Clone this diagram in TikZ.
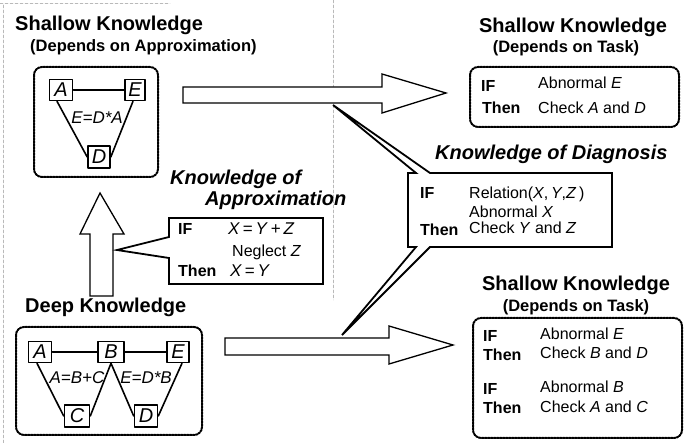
\documentclass[tikz,border=0pt]{standalone}
\usepackage{fontspec}
\setmainfont{Liberation Sans}
\begin{document}
\begin{tikzpicture}[x=1pt, y=-1pt, line join=round, line cap=round,
  ttl/.style={font=\fontsize{20}{22}\selectfont\bfseries, inner sep=0},
  subttl/.style={font=\fontsize{16.5}{18}\selectfont\bfseries, inner sep=0},
  kw/.style={font=\fontsize{16}{18}\selectfont\bfseries, anchor=mid west, inner sep=0},
  rule/.style={font=\fontsize{16}{18}\selectfont, anchor=mid west, inner sep=0},
  var/.style={draw, line width=1.6pt, font=\fontsize{20}{22}\selectfont\itshape, inner sep=1pt, minimum width=23pt, minimum height=21pt},
  eqn/.style={font=\fontsize{17}{18}\selectfont\itshape, inner sep=0},
  link/.style={line width=1.6pt},
  dotbox/.style={draw, densely dotted, line width=2pt, rounded corners=8pt},
  bigarrow/.style={draw, fill=white, line width=1.3pt, line join=miter},
  callout/.style={draw, fill=white, line width=1.8pt, line join=miter},
  scan/.style={gray!55, densely dashed, line width=.5pt}]
\useasboundingbox (0,0) rectangle (689,443);
% faint page edges of the scan
\draw[scan] (3,5)--(3,443) (0,3)--(170,3) (333,0)--(333,300);

% shallow knowledge (approximation)
\node[ttl, anchor=mid west] (shA) at (15,28) {Shallow Knowledge};
\node[subttl, anchor=mid west] (shAsub) at (30,49) {(Depends on Approximation)};
\draw[dotbox] (34,67) rectangle (158,177);
\node[var] (a1) at (61,90) {A};
\node[var, minimum width=20pt] (e1) at (135,90) {E};
\node[var, minimum width=22pt, minimum height=22pt] (d1) at (99,157) {D};
\draw[link] (a1)--(e1) ([xshift=-4pt]a1.south)--(d1.west) ([xshift=-2pt]e1.south)--(d1.east);
\node[eqn] (eq1) at (97,118) {E=D*A};

% deep knowledge
\node[ttl, anchor=mid west] (deep) at (25,310) {Deep Knowledge};
\draw[dotbox] (16,327) rectangle (202,435);
\node[var] (a2) at (40,352) {A};
\node[var, minimum width=26pt] (b2) at (111,352) {B};
\node[var, minimum width=22pt] (e2) at (178,352) {E};
\node[var, minimum width=25pt, minimum height=22pt] (c2) at (77,416) {C};
\node[var, minimum height=22pt] (d2) at (146,416) {D};
\draw[link] (a2)--(b2)--(e2) ([xshift=-3pt]a2.south)--(c2.west) (c2.east)--(b2.south)--(d2.west) (d2.east)--([xshift=4pt]e2.south);
\node[eqn] (eq2) at (77,378) {A=B+C};
\node[eqn] (eq3) at (146,378) {E=D*B};

% big arrows
\draw[bigarrow] (183,87)--(382,87)--(382,74)--(446,93)--(382,113)--(382,103)--(183,103)--cycle;
\draw[bigarrow] (225,338)--(389,338)--(389,326)--(453,345)--(389,364)--(389,355)--(225,355)--cycle;
\draw[bigarrow] (90,296)--(90,234)--(80,234)--(100,193)--(124,234)--(113,234)--(113,296)--cycle;

% knowledge of approximation
\node[ttl, font=\fontsize{20}{22}\selectfont\bfseries\itshape, anchor=mid west] (apx1) at (170,182) {Knowledge of};
\node[ttl, font=\fontsize{20}{22}\selectfont\bfseries\itshape, anchor=mid west] (apx2) at (205,203) {Approximation};
\draw[callout] (169,218)--(323,218)--(323,284)--(169,284)--(169,258)--(117,250)--(169,237)--cycle;
\node[kw] (apxif) at (178,232) {IF};
\node[rule, font=\fontsize{17}{18}\selectfont] (apxr1) at (228,232) {\textit{X}\,=\,\textit{Y}\,+\,\textit{Z}};
\node[rule] (apxr2) at (232,254) {Neglect \textit{Z}};
\node[kw] (apxthen) at (178,274) {Then};
\node[rule, font=\fontsize{17}{18}\selectfont] (apxr3) at (230,274) {\textit{X}\,=\,\textit{Y}};

% knowledge of diagnosis
\node[ttl, font=\fontsize{20}{22}\selectfont\bfseries\itshape, anchor=mid west] (dia) at (435,157) {Knowledge of Diagnosis};
\draw[callout] (408,173)--(416,173)--(333,105)--(430,173)--(612,173)--(612,247)--(430,247)--(342,335)--(416,247)--(408,247)--cycle;
\node[kw] (diaif) at (420,196) {IF};
\node[rule] (diar1) at (469,196) {Relation(\textit{X},\,\textit{Y},\textit{Z}\,)};
\node[rule] (diar2) at (469,215) {Abnormal \textit{X}};
\node[kw] (diathen) at (420,233) {Then};
\node[rule] (diar3) at (469,231) {Check \textit{Y} and \textit{Z}};

% shallow knowledge (task), top
\node[ttl] (shT1) at (573,27) {Shallow Knowledge};
\node[subttl] (shT1sub) at (566,48) {(Depends on Task)};
\draw[dotbox] (470,67) rectangle (679,127);
\node[kw] (t1if) at (481,89) {IF};
\node[rule] (t1r1) at (538,86) {Abnormal \textit{E}};
\node[kw] (t1then) at (482,111) {Then};
\node[rule] (t1r2) at (538,111) {Check \textit{A} and \textit{D}};

% shallow knowledge (task), bottom
\node[ttl] (shT2) at (576,285) {Shallow Knowledge};
\node[subttl] (shT2sub) at (576,307) {(Depends on Task)};
\draw[dotbox] (473,318) rectangle (682,438);
\foreach \y/\n in {339/1,392/2} \node[kw] (t2if\n) at (483,\y) {IF};
\foreach \y/\n in {358/1,411/2} \node[kw] (t2then\n) at (483,\y) {Then};
\node[rule] (t2r1) at (540,337) {Abnormal \textit{E}};
\node[rule] (t2r2) at (540,356) {Check \textit{B} and \textit{D}};
\node[rule] (t2r3) at (540,390) {Abnormal \textit{B}};
\node[rule] (t2r4) at (540,410) {Check \textit{A} and \textit{C}};
\end{tikzpicture}
\end{document}
